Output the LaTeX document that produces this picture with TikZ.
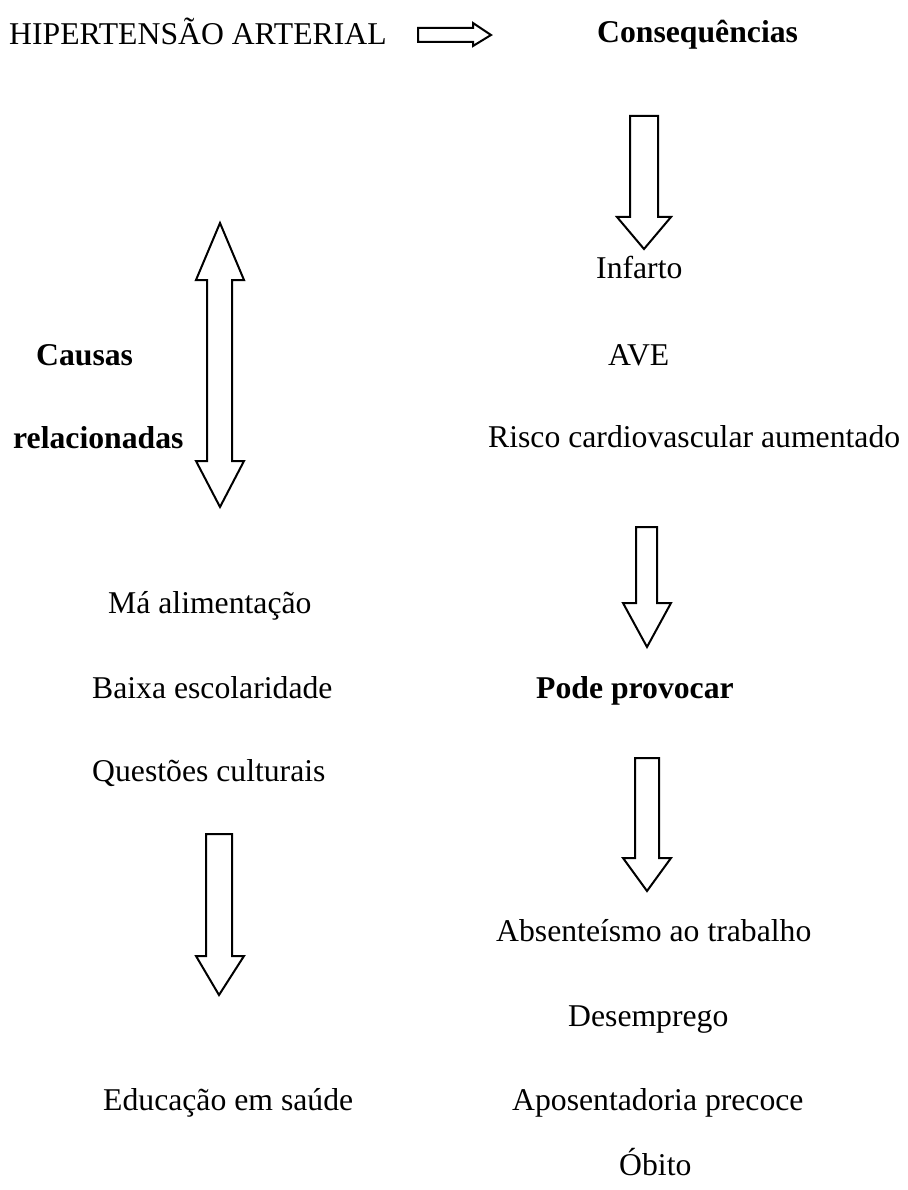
\documentclass[tikz,border=0pt]{standalone}
\usepackage{fontspec}
\setmainfont{Liberation Serif}
\begin{document}
\begin{tikzpicture}[x=1pt,y=-1pt,
  lbl/.style={anchor=base west,inner sep=0pt,font=\fontsize{31.7}{38}\selectfont},
  bl/.style={lbl,font=\fontsize{31.7}{38}\selectfont\bfseries},
  blockarrow/.style={draw=black,line width=2pt,fill=white,line join=miter}]
\useasboundingbox[fill=white] (0,0) rectangle (907,1190);
% texts
\node[lbl] (hip) at (9,45) {HIPERTENSÃO ARTERIAL};
\node[bl] (cons) at (597,43) {Consequências};
\node[lbl] (inf) at (596,278) {Infarto};
\node[lbl] (ave) at (608,365) {AVE};
\node[bl] (causas) at (36,365) {Causas};
\node[bl] (rel) at (13,448) {relacionadas};
\node[lbl] (risco) at (488,447) {Risco cardiovascular aumentado};
\node[lbl] (ma) at (108,613) {Má alimentação};
\node[lbl] (baixa) at (92,698) {Baixa escolaridade};
\node[bl] (pode) at (536,698) {Pode provocar};
\node[lbl] (quest) at (92,781) {Questões culturais};
\node[lbl] (abs) at (496,941) {Absenteísmo ao trabalho};
\node[lbl] (des) at (568,1026) {Desemprego};
\node[lbl] (edu) at (103,1110) {Educação em saúde};
\node[lbl] (apo) at (512,1110) {Aposentadoria precoce};
\node[lbl] (obi) at (619,1175) {Óbito};
% block arrows
\draw[blockarrow] (418,28)--(473,28)--(473,23)--(491,35)--(473,46)--(473,42)--(418,42)--cycle;
\draw[blockarrow] (630,116)--(658,116)--(658,217)--(671,217)--(644,249)--(617,217)--(630,217)--cycle;
\draw[blockarrow] (220,223)--(244,280)--(232,280)--(232,461)--(244,461)--(220,507)--(196,461)--(207,461)--(207,280)--(196,280)--cycle;
\draw[blockarrow] (636,527)--(657,527)--(657,603)--(671,603)--(647,647)--(623,603)--(636,603)--cycle;
\draw[blockarrow] (206,834)--(232,834)--(232,956)--(244,956)--(219,995)--(196,956)--(206,956)--cycle;
\draw[blockarrow] (635,758)--(659,758)--(659,858)--(671,858)--(647,891)--(623,858)--(635,858)--cycle;
\end{tikzpicture}
\end{document}
